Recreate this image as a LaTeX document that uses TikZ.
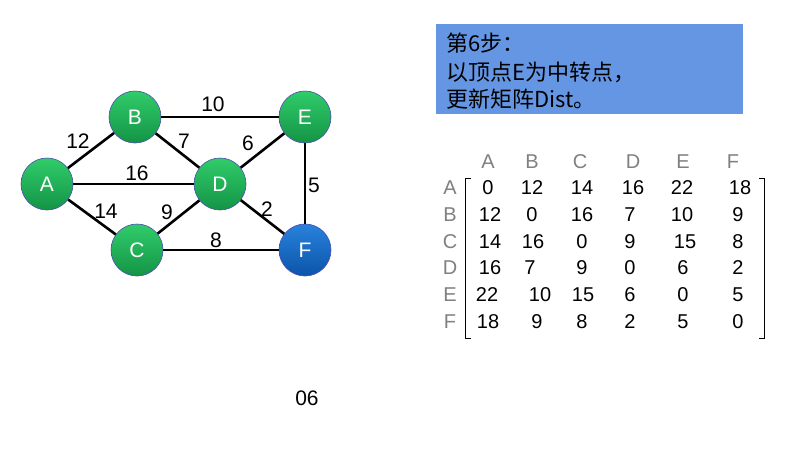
\documentclass[tikz,border=0pt]{standalone}
\usepackage{fontspec}
\setmainfont{Liberation Sans}
\newfontfamily\cjk{Noto Sans CJK SC}
\definecolor{gtop}{RGB}{48,204,106}
\definecolor{gbot}{RGB}{20,148,70}
\definecolor{btop}{RGB}{40,130,220}
\definecolor{bbot}{RGB}{12,84,170}
\definecolor{boxblue}{RGB}{100,150,228}
\definecolor{hdr}{RGB}{128,128,128}
\begin{document}
\begin{tikzpicture}[x=1pt,y=-1pt,
  vert/.style={circle,minimum size=52pt,inner sep=0pt,draw=gray!60!blue,line width=0.6pt,
     top color=gtop,bottom color=gbot,text=white,font=\fontsize{21}{21}\selectfont},
  vertblue/.style={vert,top color=btop,bottom color=bbot},
  edge/.style={line width=2.6pt,black},
  wlab/.style={font=\fontsize{21}{21}\selectfont,inner sep=0pt},
  mnum/.style={font=\fontsize{20}{20}\selectfont,inner sep=0pt},
  mhdr/.style={mnum,text=hdr},
  boxline/.style={anchor=base west,inner sep=0pt,font=\cjk\fontsize{22}{22}\selectfont}]
\useasboundingbox (0,0) rectangle (798,448);
\fill[white] (0,0) rectangle (798,448);
% vertices
\node[vert] (A) at (47,184) {A};
\node[vert] (B) at (135,117) {B};
\node[vert] (E) at (305,117) {E};
\node[vert] (D) at (220,184) {D};
\node[vert] (C) at (137,250) {C};
\node[vertblue] (F) at (305,250) {F};
% edges
\draw[edge] (A) -- (B);
\draw[edge] (B) -- (E);
\draw[edge] (B) -- (D);
\draw[edge] (E) -- (D);
\draw[edge] (A) -- (D);
\draw[edge] (A) -- (C);
\draw[edge] (C) -- (D);
\draw[edge] (D) -- (F);
\draw[edge] (E) -- (F);
\draw[edge] (C) -- (F);
% weights
\node[wlab] (w12) at (78,141) {12};
\node[wlab] (w10) at (213,104) {10};
\node[wlab] (w7) at (184,141) {7};
\node[wlab] (w6) at (248,143) {6};
\node[wlab] (w16) at (137,173) {16};
\node[wlab] (w14) at (106,211) {14};
\node[wlab] (w9) at (167,212) {9};
\node[wlab] (w2) at (267,209) {2};
\node[wlab] (w5) at (314,185) {5};
\node[wlab] (w8) at (216,240) {8};
% box
\node[fill=boxblue,minimum width=307pt,minimum height=90pt,inner sep=0pt,anchor=north west] (box) at (436,24) {};
\node[boxline] (l1) at (446,51) {第6步：};
\node[boxline] (l2) at (446,80) {以顶点E为中转点，};
\node[boxline] (l3) at (446,107) {更新矩阵Dist。};
% matrix headers
\foreach \x/\l in {488/A,532/B,580/C,633/D,683/E,733/F}
  \node[mhdr] (h\l) at (\x,162) {\l};
\foreach \y/\l in {188/A,215/B,242/C,268/D,295/E,322/F}
  \node[mhdr] (r\l) at (450,\y) {\l};
% entries
\foreach \x/\v [count=\i] in {488/0,532/12,582/14,633/16,682/22,740/18}
  \node[mnum] (mA\i) at (\x,188) {\v};
\foreach \x/\v [count=\i] in {490/12,532/0,582/16,630/7,682/10,738/9}
  \node[mnum] (mB\i) at (\x,215) {\v};
\foreach \x/\v [count=\i] in {490/14,533/16,582/0,630/9,685/15,738/8}
  \node[mnum] (mC\i) at (\x,242) {\v};
\foreach \x/\v [count=\i] in {490/16,530/7,582/9,630/0,683/6,738/2}
  \node[mnum] (mD\i) at (\x,268) {\v};
\foreach \x/\v [count=\i] in {487/22,540/10,583/15,630/6,683/0,738/5}
  \node[mnum] (mE\i) at (\x,295) {\v};
\foreach \x/\v [count=\i] in {488/18,537/9,582/8,630/2,683/5,738/0}
  \node[mnum] (mF\i) at (\x,322) {\v};
% brackets
\draw[line width=1pt] (471,178) -- (465.5,178) -- (465.5,338) -- (471,338);
\draw[line width=1pt] (759,178) -- (764.5,178) -- (764.5,338) -- (759,338);
% footer
\node[wlab] (pg) at (307,398) {06};
\end{tikzpicture}
\end{document}
